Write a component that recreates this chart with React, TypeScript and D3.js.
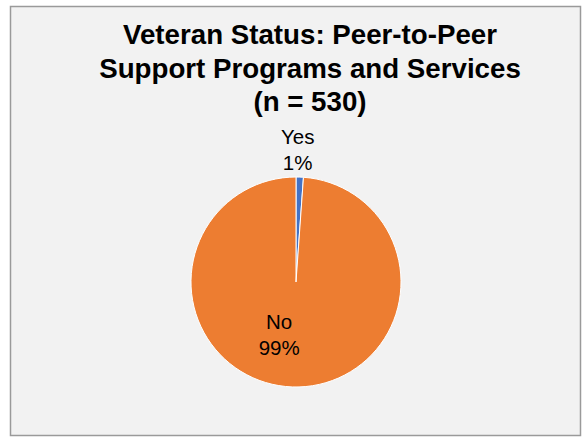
import React from "react";
import * as d3 from "d3";

const categories = ["Yes", "No"];
const counts = [6, 524];
const percentLabels = ["1%", "99%"];
const colors = ["#4472C4", "#ED7D31"];
const titleLines = ["Veteran Status: Peer-to-Peer", "Support Programs and Services", "(n = 530)"];

const W = 583;
const H = 437;

export default function App() {
  const cx = 296;
  const cy = 282;
  const r = 105;

  const pie = d3.pie<number>().sort(null).value((d) => d)(counts);
  const arc = d3.arc<d3.PieArcDatum<number>>().innerRadius(0).outerRadius(r);
  const labelArcIn = d3.arc<d3.PieArcDatum<number>>().innerRadius(r * 0.5).outerRadius(r * 0.5);
  const labelArcOut = d3.arc<d3.PieArcDatum<number>>().innerRadius(r + 26).outerRadius(r + 26);

  const font = "'Liberation Sans', Arial, sans-serif";

  return (
    <svg width={W} height={H} style={{ position: "absolute", left: 0, top: 0 }} xmlns="http://www.w3.org/2000/svg">
      <rect x={0} y={0} width={W} height={H} fill="#ffffff" />
      <rect x={10.5} y={6.5} width={570} height={429} fill="#f2f2f2" stroke="#9a9a9a" strokeWidth={1.5} />
      <g fontFamily={font} fontWeight="bold" fontSize={27.7} fill="#000" textAnchor="middle">
        {titleLines.map((t, i) => (
          <text key={i} x={310} y={44.3 + i * 33.5}>
            {t}
          </text>
        ))}
      </g>
      <g transform={`translate(${cx},${cy})`}>
        {pie.map((p, i) => (
          <path key={i} d={arc(p) || ""} fill={colors[i]} stroke="#ffffff" strokeWidth={1} />
        ))}
        {pie.map((p, i) => {
          const small = p.endAngle - p.startAngle < 0.3;
          const [lx, ly] = small ? labelArcOut.centroid(p) : labelArcIn.centroid(p);
          const ox = small ? -3 : -15;
          const oy = small ? -2 : 0;
          return (
            <text key={"l" + i} x={lx + ox} y={ly + oy} fontFamily={font} fontSize={20.5} fill="#000" textAnchor="middle">
              <tspan x={lx + ox} dy={-5.5}>{categories[i]}</tspan>
              <tspan x={lx + ox} dy={26}>{percentLabels[i]}</tspan>
            </text>
          );
        })}
      </g>
    </svg>
  );
}
